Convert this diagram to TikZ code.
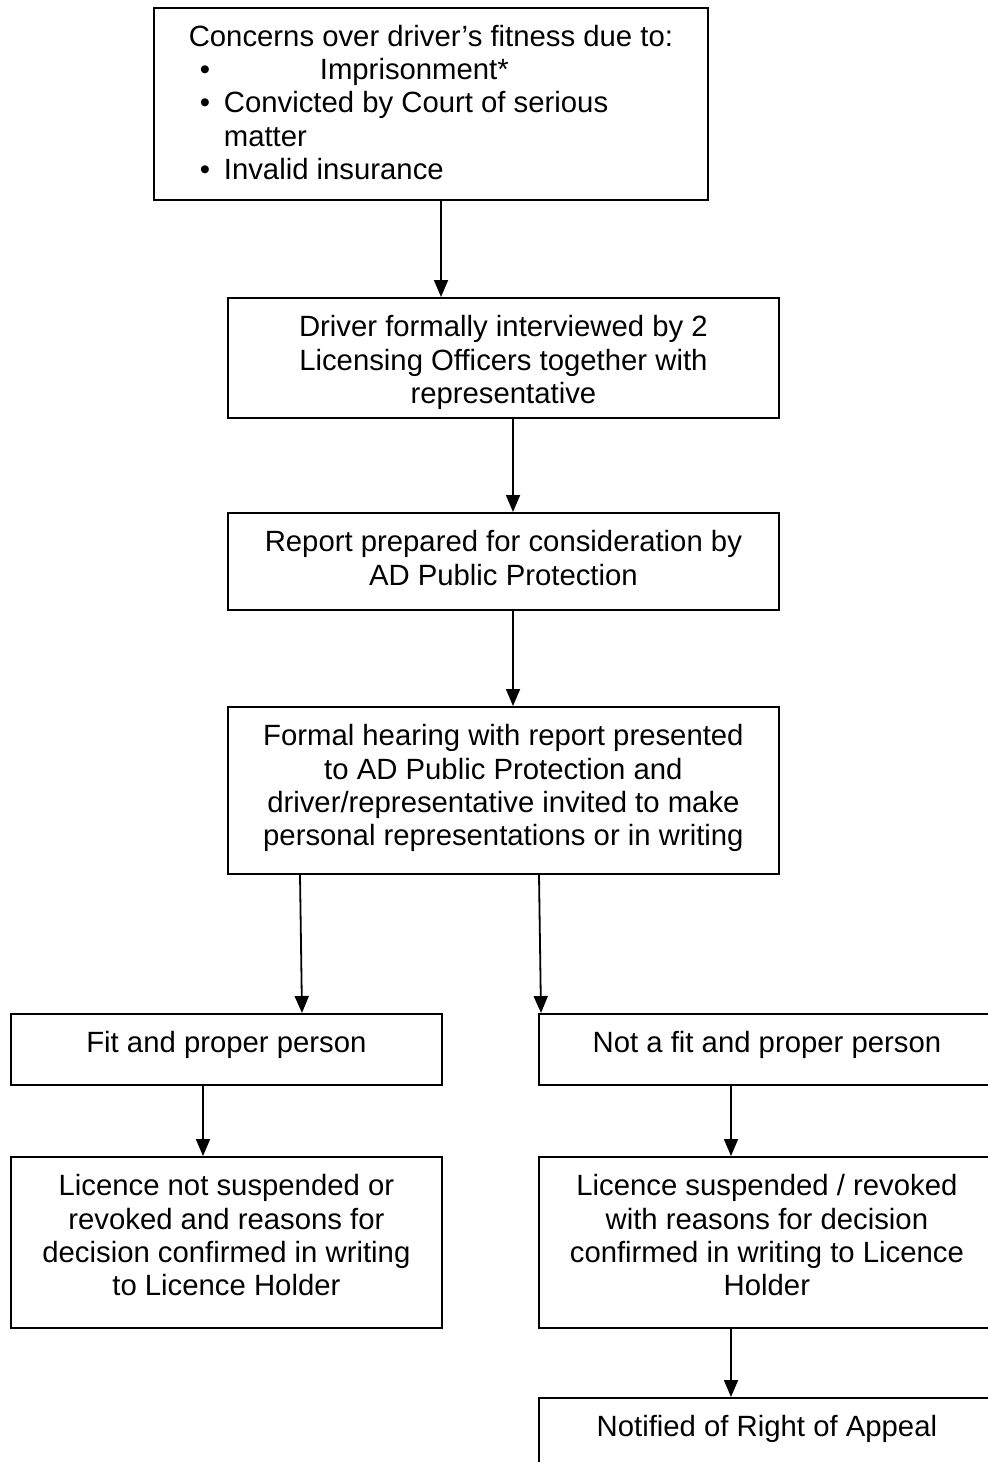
\documentclass[tikz,border=0pt]{standalone}
\usepackage{fontspec}
\setmainfont{Liberation Sans}
\usetikzlibrary{arrows.meta}
\newcommand{\boxtxt}[3]{\parbox[c][#2][t]{#1}{\centering\vspace*{15.7pt}\strut #3}}
\begin{document}
\begin{tikzpicture}[x=1pt,y=-1pt,
  box/.style={draw, line width=1.8pt, inner sep=0pt, anchor=north west,
    font=\fontsize{29.3pt}{33.3pt}\selectfont},
  arr/.style={line width=1.8pt, -{Triangle[width=14pt,length=17pt]}}]
\useasboundingbox (0,0) rectangle (988,1462);
\node[box] (b1) at (153,7) {\parbox[c][192pt][t]{554pt}{\vspace*{15pt}%
  {\centering\strut Concerns over driver’s fitness due to:\par}
  \raggedright
  \hspace*{46pt}\makebox[120pt][l]{•}Imprisonment*\par
  \hspace*{46pt}\makebox[24pt][l]{•}Convicted by Court of serious\par
  \hspace*{70pt}matter\par
  \hspace*{46pt}\makebox[24pt][l]{•}Invalid insurance\par}};
\node[box] (b2) at (227,297) {\boxtxt{551pt}{120pt}{Driver formally interviewed by 2\\Licensing Officers together with\\representative}};
\node[box] (b3) at (227,512) {\boxtxt{551pt}{97pt}{Report prepared for consideration by\\AD Public Protection}};
\node[box] (b4) at (227,706) {\boxtxt{551pt}{167pt}{Formal hearing with report presented\\to AD Public Protection and\\driver/representative invited to make\\personal representations or in writing}};
\node[box] (fit) at (10,1013) {\boxtxt{431pt}{71pt}{Fit and proper person}};
\node[box] (nfit) at (538,1013) {\boxtxt{456pt}{71pt}{Not a fit and proper person}};
\node[box] (lic) at (10,1156) {\boxtxt{431pt}{171pt}{Licence not suspended or\\revoked and reasons for\\decision confirmed in writing\\to Licence Holder}};
\node[box] (rev) at (538,1156) {\boxtxt{456pt}{171pt}{Licence suspended / revoked\\with reasons for decision\\confirmed in writing to Licence\\Holder}};
\node[box] (app) at (538,1397) {\boxtxt{456pt}{110pt}{Notified of Right of Appeal}};
\draw[arr] ([xshift=288pt]b1.south west) -- ([xshift=214pt]b2.north west);
\draw[arr] ([xshift=286pt]b2.south west) -- ([xshift=286pt]b3.north west);
\draw[arr] ([xshift=286pt]b3.south west) -- ([xshift=286pt]b4.north west);
\draw[arr] ([xshift=73pt]b4.south west) -- ([xshift=292pt]fit.north west);
\draw[arr] ([xshift=312pt]b4.south west) -- ([xshift=3pt]nfit.north west);
\draw[arr] ([xshift=193pt]fit.south west) -- ([xshift=193pt]lic.north west);
\draw[arr] ([xshift=193pt]nfit.south west) -- ([xshift=193pt]rev.north west);
\draw[arr] ([xshift=193pt]rev.south west) -- ([xshift=193pt]app.north west);
\end{tikzpicture}
\end{document}
